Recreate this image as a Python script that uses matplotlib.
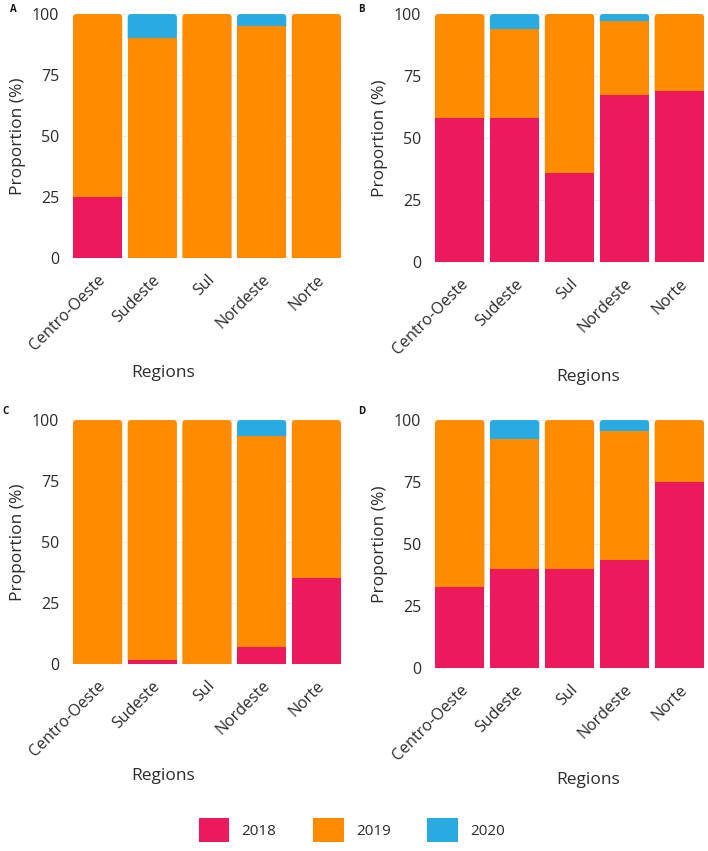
import matplotlib
matplotlib.use("Agg")
import matplotlib.pyplot as plt
from matplotlib.patches import FancyBboxPatch, Patch

plt.rcParams['font.family'] = ['Open Sans', 'DejaVu Sans']

regions = ["Centro-Oeste", "Sudeste", "Sul", "Nordeste", "Norte"]
years = ["2018", "2019", "2020"]
colors = ["#EC195D", "#FF8B00", "#29ABE2"]

# proportions per panel, one list per year
a_2018 = [25, 0, 0, 0, 0]
a_2019 = [75, 90, 100, 95, 100]
a_2020 = [0, 10, 0, 5, 0]

b_2018 = [58, 58, 36, 67.5, 69]
b_2019 = [42, 36, 64, 29.5, 31]
b_2020 = [0, 6, 0, 3, 0]

c_2018 = [0, 1.6, 0, 6.8, 35.4]
c_2019 = [100, 98.4, 100, 86.6, 64.6]
c_2020 = [0, 0, 0, 6.6, 0]

d_2018 = [32.5, 40, 40, 43.7, 75]
d_2019 = [67.5, 52.2, 60, 52, 25]
d_2020 = [0, 7.8, 0, 4.3, 0]

panels = {
    "A": [a_2018, a_2019, a_2020],
    "B": [b_2018, b_2019, b_2020],
    "C": [c_2018, c_2019, c_2020],
    "D": [d_2018, d_2019, d_2020],
}

# axes rectangles in figure fraction
rects = {
    "A": [0.1031, 0.6968, 0.3785, 0.2867],
    "B": [0.6144, 0.6921, 0.3800, 0.2914],
    "C": [0.1031, 0.2197, 0.3785, 0.2867],
    "D": [0.6144, 0.2150, 0.3800, 0.2914],
}
letter_pos = {"A": (10, 10), "B": (358, 10), "C": (2, 412), "D": (358, 412)}
xlabel_pos = {"A": (163, 373), "B": (588, 377), "C": (163, 776), "D": (588, 780)}

W, H = 708, 851
fig = plt.figure(figsize=(W / 100, H / 100), dpi=100)
txt = "#2b2b2b"
width = 0.9

for key, series in panels.items():
    ax = fig.add_axes(rects[key])
    ax.set_xlim(-0.45, 4.45)
    ax.set_ylim(0, 100)
    for s in ax.spines.values():
        s.set_visible(False)
    ax.set_yticks([0, 25, 50, 75, 100])
    ax.yaxis.grid(True, color="#ececec", lw=0.8, zorder=0)
    ax.set_axisbelow(True)
    ax.axhline(0, color="#dddddd", lw=1, zorder=0.5)
    ax.tick_params(length=0, labelsize=11.5, colors=txt)
    ax.tick_params(axis="y", pad=10)
    ax.tick_params(axis="x", pad=10)
    ax.set_xticks(range(len(regions)))
    ax.set_xticklabels(regions, rotation=45, ha="right", va="top", rotation_mode="anchor")
    ax.set_ylabel("Proportion (%)", fontsize=12.5, color=txt, labelpad=4)

    # data-unit size of a few pixels, for rounded tops
    bbox = ax.get_position()
    px_x = 5 / (bbox.width * W)
    px_y = 100 / (bbox.height * H)
    aspect = px_y / px_x

    for i in range(len(regions)):
        vals = [s[i] for s in series]
        top = max(j for j, v in enumerate(vals) if v > 0)
        bottom = 0
        for j, v in enumerate(vals):
            if v <= 0:
                continue
            if j == top:
                lo = bottom - 3 * px_y
                p = FancyBboxPatch((i - width / 2, lo), width, bottom + v - lo,
                                   boxstyle="round,pad=0,rounding_size=%f" % (3.5 * px_x),
                                   mutation_aspect=aspect,
                                   fc=colors[j], ec="none", zorder=2)
                ax.add_patch(p)
            else:
                ax.bar(i, v, width, bottom=bottom, color=colors[j], zorder=3, lw=0)
            bottom += v

    lx, ly = letter_pos[key]
    fig.text(lx / W, 1 - ly / H, key, fontsize=7, fontweight="bold", color="#111111",
             ha="left", va="center")
    rx, ry = xlabel_pos[key]
    fig.text(rx / W, 1 - ry / H, "Regions", fontsize=12.5, color=txt, ha="center", va="center")

handles = [Patch(fc=c, ec="none") for c in colors]
fig.legend(handles, years, loc="center", bbox_to_anchor=(0.497, 0.0247), ncol=3,
           frameon=False, fontsize=11, handlelength=2.0, handleheight=2.0,
           handletextpad=0.8, columnspacing=2.4, labelcolor=txt)

fig.savefig("out.png", dpi=100)
